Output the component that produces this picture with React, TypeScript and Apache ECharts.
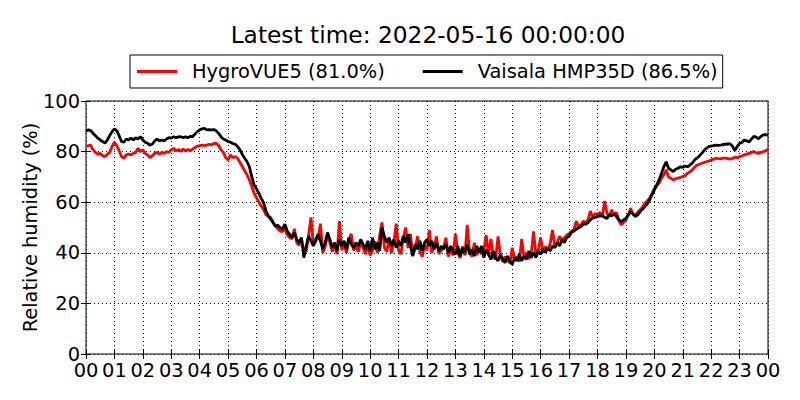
import React, { useEffect, useRef } from "react";
import * as echarts from "echarts";

const titleText = "Latest time: 2022-05-16 00:00:00";
const seriesNames = ["HygroVUE5 (81.0%)", "Vaisala HMP35D (86.5%)"];
const stepHours = 1 / 12; // 5-minute samples from 00:00 to 24:00
const yTicks = [0, 20, 40, 60, 80, 100];

const hygroVUE5 = [
  82, 82.4, 82.6, 80.7, 79.7, 79, 79.3, 78.4, 78, 79,
  79.7, 82, 83.7, 82.4, 80.3, 78, 77.4, 78.7, 79, 78.7,
  79.3, 79.7, 81.3, 80, 80.7, 79.3, 78.7, 77.6, 78.4, 79.3,
  79.7, 79, 79.7, 79.3, 80, 79.7, 80.7, 81.3, 80.3, 80.9,
  80, 81, 80.3, 80.8, 80.3, 81, 81.6, 82.1, 82.4, 82.6,
  82.4, 82.6, 82.9, 82.6, 83.2, 83.3, 82.4, 80.7, 79.7, 77.6,
  76.7, 78.7, 77.6, 78, 77.4, 75.8, 74.1, 72.4, 70.8, 68.8,
  66.2, 63.5, 61.8, 60, 58.5, 57, 55, 54.5, 54, 52,
  50.5, 49.5, 48.5, 48.5, 49.5, 47, 46, 45.5, 49.5, 44,
  43, 45, 41, 40.5, 47, 54, 43, 44.5, 46, 51.5,
  40, 42.5, 47, 44, 40.5, 43, 39.5, 52.5, 41, 43.5,
  40, 45, 47.5, 41, 42.5, 40.5, 44, 42, 39.5, 43,
  39, 41, 44.5, 40, 47, 52, 42, 40.5, 45.5, 40,
  44, 51.5, 41, 39.5, 46, 50, 42, 47.5, 39, 41.5,
  46.5, 40.5, 38.5, 43, 41, 49, 40, 42.5, 46.5, 39.5,
  41, 42, 46, 38.5, 41, 39, 47.5, 40, 38, 42.5,
  39, 51, 40, 38.5, 44, 39, 41.5, 39.5, 41, 47,
  39, 45.5, 38, 37.5, 46.5, 39, 36.5, 38.5, 37, 36,
  42, 37.5, 38.5, 36.5, 45.5, 38, 40, 37.5, 39.5, 48.5,
  39, 41, 46, 40, 42.5, 41, 43.5, 49, 42.5, 44,
  46.5, 45, 46, 47, 47.5, 48.5, 49, 52.5, 50.5, 51,
  52.5, 52, 53, 56.5, 54, 55.5, 55, 56, 54, 60.5,
  55.6, 54.5, 57, 55, 56, 53, 51, 52, 53, 55,
  57.6, 55, 55, 56, 57, 58, 59.6, 60.5, 61.6, 63.5,
  65.5, 66.5, 67.5, 69.5, 70.8, 72.8, 70, 69.5, 68.8, 69.3,
  69.5, 69.8, 70.1, 70.5, 71.4, 72, 72.8, 73.8, 74.7, 75,
  75.4, 75.7, 76, 76.3, 76.7, 77, 77.4, 77.2, 77.1, 77.4,
  77.4, 77.2, 77, 77.3, 77.8, 77.6, 78, 78.3, 78.7, 79,
  79.3, 79.6, 80, 79.5, 79.3, 79.7, 80, 80.3, 81,
];

const vaisalaHMP35D = [
  88.2, 88.6, 88.3, 87.2, 86.3, 85.3, 84.6, 84, 83.3, 84.6,
  86.3, 87.9, 89, 88.2, 86.3, 84, 83.7, 85, 84.6, 85.3,
  84.6, 85.5, 85, 85.9, 84.6, 83.7, 83.3, 82.6, 82.9, 84.2,
  85, 84.2, 84.6, 84.2, 85, 85.5, 85.3, 85.9, 85.5, 85.8,
  85.9, 85.5, 85.8, 85.5, 86, 85.9, 86.9, 87.9, 88.6, 89,
  89.2, 88.6, 88.7, 88.6, 88.7, 88.2, 87.2, 85.9, 85, 84.6,
  84, 83.7, 83.2, 82.9, 82, 80.7, 78.9, 77.4, 76, 74,
  70.1, 66.8, 65.2, 63.5, 61.5, 59.8, 56.5, 54.5, 53.2, 51.9,
  50.6, 50.9, 49.9, 49.3, 51.3, 48.6, 47.3, 46, 48, 45.3,
  44, 46, 38.1, 42.7, 46.6, 44.7, 42.7, 45.3, 47.3, 44.7,
  41.4, 44, 48, 45.3, 42, 44, 40.7, 45.3, 42.7, 44.7,
  41.4, 46, 43.4, 42, 44, 42.7, 45.3, 43.4, 41.4, 44.7,
  40.5, 46, 41.4, 44, 40.7, 49.9, 46.6, 44, 46, 42.7,
  45.3, 42, 44.7, 42.7, 46.6, 44, 47.3, 42.7, 38.7, 43.4,
  41.4, 44.7, 40.7, 44, 45.3, 42.7, 44.7, 41.4, 44, 40.7,
  42.7, 41.4, 43.4, 40.1, 42.7, 40.7, 39.4, 42.7, 38.7, 42,
  40.1, 43.4, 39.4, 41.4, 38.7, 42.7, 40.1, 42.7, 38.1, 41.4,
  39.4, 37.4, 40.7, 38.1, 36.8, 39.4, 37.4, 36.1, 38.7, 36.8,
  35.4, 38.1, 36.8, 39.4, 36.8, 38.7, 37.4, 40.7, 38.1, 40.1,
  38.1, 40.7, 39.4, 41.4, 40.1, 42, 40.7, 42.7, 42, 44,
  42.7, 45.3, 44, 46, 46.6, 48, 48.6, 49.3, 49.9, 50.3,
  51.3, 51.3, 51.9, 53, 53.8, 54, 54.3, 54.7, 55, 54,
  53.6, 55, 54.6, 55.4, 54.3, 53, 52.3, 53, 53.6, 55,
  56.3, 55.4, 54.3, 55, 56.3, 57.2, 58.3, 59.3, 60.9, 62.9,
  64.8, 66.8, 68.8, 71.4, 74, 76, 73.4, 72.8, 72.1, 73,
  73.4, 74, 73.8, 74.3, 74, 74.7, 75.4, 76.7, 77.4, 78.3,
  79.3, 80.4, 81.3, 82, 82.2, 82.4, 82.6, 82.5, 82.6, 82.8,
  82.9, 83, 83, 82.2, 80.4, 82, 83.3, 83.6, 84.6, 84.3,
  83.8, 84.9, 86, 85.7, 85.1, 86, 86.6, 86.7, 86.5,
];

const FONT = "DejaVu Sans";

export default function App() {
  const ref = useRef<HTMLDivElement>(null);
  useEffect(() => {
    document.body.style.margin = "0";
    const chart = echarts.init(ref.current!, null, { renderer: "svg" });
    const toPairs = (arr: number[]) => arr.map((v, i) => [i * stepHours, v]);
    const tickCommon = {
      show: true,
      inside: true,
      length: 5,
      lineStyle: { color: "#000", width: 1 },
    };
    const hourFmt = (v: number) => String(Math.round(v) % 24).padStart(2, "0");
    chart.setOption({
      animation: false,
      backgroundColor: "#fff",
      textStyle: { fontFamily: FONT },
      title: {
        text: titleText,
        left: 423,
        top: 18,
        textAlign: "center",
        textStyle: { fontFamily: FONT, fontSize: 23.3, fontWeight: "normal", color: "#000" },
      },
      legend: {
        data: seriesNames,
        left: 130,
        top: 55,
        padding: [7, 5, 7, 7],
        itemGap: 38,
        itemWidth: 40,
        itemHeight: 3,
        icon: "rect",
        borderColor: "#000",
        borderWidth: 1,
        borderRadius: 0,
        backgroundColor: "#fff",
        textStyle: { fontFamily: FONT, fontSize: 19.4, color: "#000", padding: [0, 0, 0, 10] },
      },
      grid: {
        left: 86,
        right: 32,
        top: 101,
        bottom: 46,
        show: true,
        borderColor: "#000",
        borderWidth: 1,
        backgroundColor: "#fff",
        containLabel: false,
      },
      xAxis: [
        {
          type: "value",
          min: 0,
          max: 24,
          interval: 1,
          axisLine: { show: false },
          axisTick: tickCommon,
          axisLabel: {
            formatter: hourFmt,
            fontFamily: FONT,
            fontSize: 19.4,
            lineHeight: 16,
            color: "#000",
            margin: 8,
          },
          splitLine: { show: true, lineStyle: { color: "#000", type: [1, 3], width: 1 } },
        },
        {
          type: "value",
          position: "top",
          min: 0,
          max: 24,
          interval: 1,
          axisLine: { show: false },
          axisTick: tickCommon,
          axisLabel: { show: false },
          splitLine: { show: false },
        },
      ],
      yAxis: [
        {
          type: "value",
          min: yTicks[0],
          max: yTicks[yTicks.length - 1],
          interval: 20,
          name: "Relative humidity (%)",
          nameLocation: "middle",
          nameGap: 46,
          nameMoveOverlap: false,
          nameTextStyle: { fontFamily: FONT, fontSize: 19.4, color: "#000" },
          axisLine: { show: false },
          axisTick: tickCommon,
          axisLabel: { fontFamily: FONT, fontSize: 19.4, lineHeight: 14, color: "#000", margin: 6 },
          splitLine: { show: true, lineStyle: { color: "#000", type: [1, 3], width: 1 } },
        },
        {
          type: "value",
          position: "right",
          min: yTicks[0],
          max: yTicks[yTicks.length - 1],
          interval: 20,
          axisLine: { show: false },
          axisTick: tickCommon,
          axisLabel: { show: false },
          splitLine: { show: false },
        },
      ],
      series: [
        {
          name: seriesNames[0],
          type: "line",
          data: toPairs(hygroVUE5),
          showSymbol: false,
          symbol: "none",
          lineStyle: { color: "#ff0000", width: 2.8 },
          itemStyle: { color: "#ff0000" },
        },
        {
          name: seriesNames[1],
          type: "line",
          data: toPairs(vaisalaHMP35D),
          showSymbol: false,
          symbol: "none",
          lineStyle: { color: "#000000", width: 2.8 },
          itemStyle: { color: "#000000" },
        },
      ],
    });
    return () => chart.dispose();
  }, []);
  return <div ref={ref} style={{ width: 800, height: 400 }} />;
}
